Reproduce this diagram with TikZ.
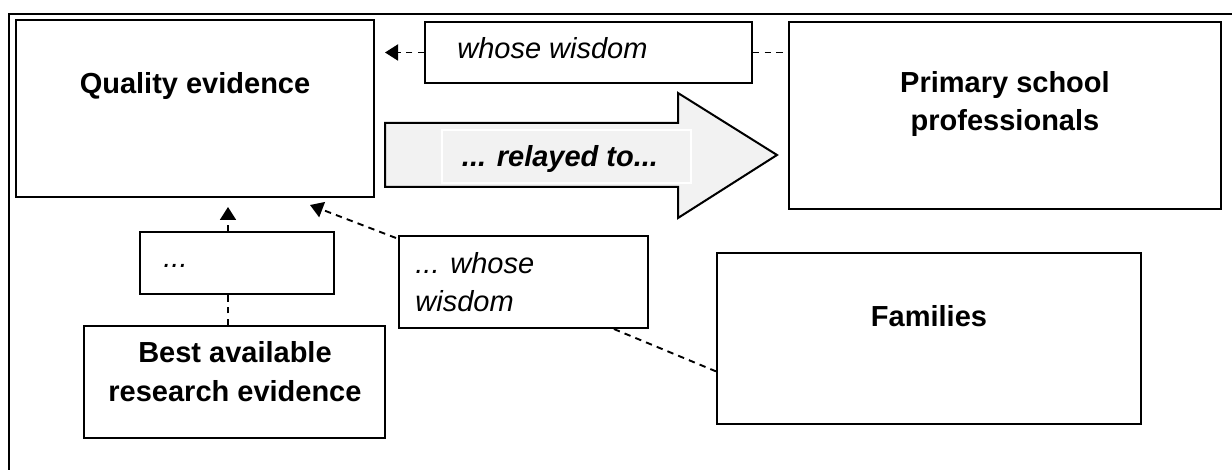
\documentclass[tikz,border=0pt]{standalone}
\usepackage{fontspec}
\setmainfont{Liberation Sans}
\usetikzlibrary{arrows.meta,fit,calc}
\definecolor{arrowfill}{HTML}{F2F2F2}
\begin{document}
\begin{tikzpicture}[x=0.5pt,y=-0.5pt,
  box/.style={draw, line width=1pt, inner sep=0pt},
  txt/.style={font=\fontsize{14.5}{19}\selectfont, inner sep=0pt},
  bt/.style={txt, font=\fontsize{14.5}{19}\selectfont\bfseries, anchor=base},
  it/.style={txt, font=\fontsize{14.5}{19}\selectfont\itshape, anchor=base west},
  conn/.style={draw, dash pattern=on 3.2pt off 2.6pt, line width=0.95pt},
  tip/.style={-{Triangle[length=6.5pt,width=8pt]}}]
\useasboundingbox (0,0) rectangle (1232,470);
\draw[line width=1.25pt] (9,470) -- (9,14) -- (1232,14);

% boxes
\node[box, fit={(16,20) (374,197)}] (q) {};
\node[box, fit={(425,22) (752,83)}] (tw) {};
\node[box, fit={(789,22) (1221,209)}] (ps) {};
\node[box, fit={(140,232) (334,294)}] (sm) {};
\node[box, fit={(399,236) (648,328)}] (w2) {};
\node[box, fit={(84,326) (385,438)}] (best) {};
\node[box, fit={(717,253) (1141,424)}] (fam) {};

% big arrow
\draw[line width=1pt, fill=arrowfill] (385,123) -- (678,123) -- (678,93) -- (777,155)
  -- (678,218) -- (678,187) -- (385,187) -- cycle;
\draw[white, line width=0.75pt, fill=arrowfill] (442,130) rectangle (691,183);

% texts
\node[bt] (tq) at (195,94) {Quality evidence};
\node[it] (ttw) at (457,59) {whose wisdom};
\node[bt] (tp1) at (1005,93) {Primary school};
\node[bt] (tp2) at (1005,131) {professionals};
\node[bt, font=\fontsize{14.5}{19}\selectfont\bfseries\itshape] (trel) at (560,167) {... relayed to...};
\node[it] (tsm) at (163,268) {...};
\node[it] (tw1) at (415,274) {... whose};
\node[it] (tw2) at (415,312) {wisdom};
\node[bt] (tb1) at (235,363) {Best available};
\node[bt] (tb2) at (235,401) {research evidence};
\node[bt] (tf) at (929,327) {Families};

% connectors
\coordinate (a0) at (385,52.5);
\coordinate (a1) at (228,207);
\coordinate (a2) at (310,205);
\draw[conn, tip] (tw.west) -- (a0);
\draw[conn] (tw.east) -- (tw.east -| ps.west);
\draw[conn, tip] (a1 |- sm.north) -- (a1);
\draw[conn] (a1 |- best.north) -- (a1 |- sm.south);
\draw[conn, tip] ($(w2.north west)+(-2,3)$) -- (a2);
\draw[conn] ($(w2.south west)!0.86!(w2.south east)$) -- ($(fam.north west)!0.69!(fam.south west)$);
\end{tikzpicture}
\end{document}
